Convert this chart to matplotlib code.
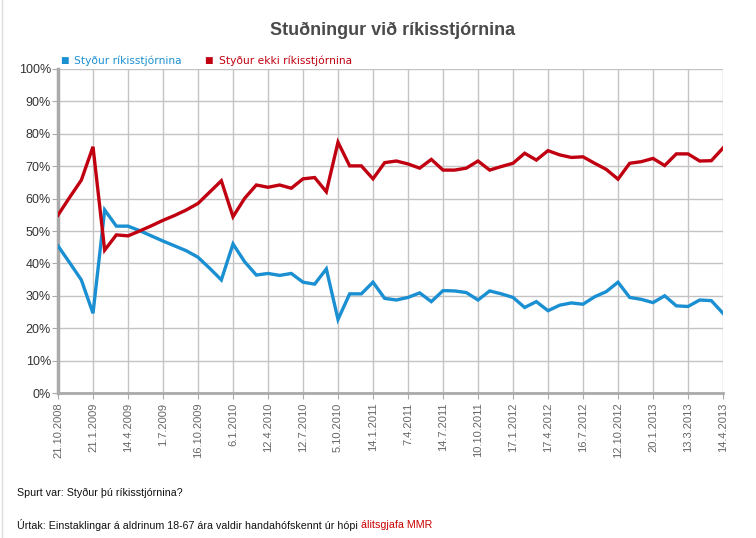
import matplotlib.pyplot as plt
from matplotlib.ticker import MultipleLocator, FuncFormatter

# dagsetningar sem birtast á x-ás (þriðja hver könnun)
tick_labels = ["21.10.2008", "21.1.2009", "14.4.2009", "1.7.2009", "16.10.2009",
               "6.1.2010", "12.4.2010", "12.7.2010", "5.10.2010", "14.1.2011",
               "7.4.2011", "14.7.2011", "10.10.2011", "17.1.2012", "17.4.2012",
               "16.7.2012", "12.10.2012", "20.1.2013", "13.3.2013", "14.4.2013"]

# Styður ríkisstjórnina (%)
stydur = [45.4, 40.2, 34.9, 24.6, 56.5, 51.5, 51.5, 50.1, 48.5, 46.9,
          45.4, 43.9, 41.9, 38.5, 34.9, 46.0, 40.5, 36.4, 36.9, 36.3,
          36.9, 34.2, 33.6, 38.3, 22.7, 30.6, 30.6, 34.2, 29.2, 28.7,
          29.5, 30.9, 28.2, 31.6, 31.5, 31.0, 28.7, 31.5, 30.6, 29.5,
          26.4, 28.2, 25.4, 27.1, 27.8, 27.4, 29.7, 31.3, 34.2, 29.5,
          28.9, 27.9, 30.0, 26.9, 26.7, 28.7, 28.5, 24.6]

# Styður ekki ríkisstjórnina (%)
stydur_ekki = [54.9, 60.4, 65.7, 76.0, 44.1, 48.8, 48.5, 50.0, 51.6, 53.3,
               54.8, 56.5, 58.5, 62.0, 65.5, 54.4, 60.1, 64.2, 63.5, 64.2,
               63.2, 66.1, 66.5, 62.1, 77.4, 70.1, 70.1, 66.1, 71.1, 71.6,
               70.7, 69.4, 72.1, 68.8, 68.8, 69.4, 71.6, 68.8, 69.9, 70.9,
               74.0, 71.9, 74.8, 73.5, 72.7, 72.9, 70.9, 69.0, 66.0, 70.9,
               71.4, 72.4, 70.2, 73.8, 73.8, 71.6, 71.7, 75.6]

BLUE = "#1a8fd2"
RED = "#c00010"
GRID = "#c4c4c4"

x = list(range(len(stydur)))
tick_pos = list(range(0, len(stydur), 3))

fig = plt.figure(figsize=(7.56, 5.38), dpi=100)
ax = fig.add_axes([58 / 756, 145 / 538, 665 / 756, 324 / 538])

ax.plot(x, stydur, color=BLUE, lw=2.4, solid_joinstyle="miter", zorder=3)
ax.plot(x, stydur_ekki, color=RED, lw=2.4, solid_joinstyle="miter", zorder=3)

ax.set_xlim(0, len(stydur) - 1)
ax.set_ylim(0, 100)
ax.yaxis.set_major_locator(MultipleLocator(10))
ax.yaxis.set_major_formatter(FuncFormatter(lambda v, p: f"{v:.0f}%"))
ax.set_xticks(tick_pos)
ax.set_xticklabels(tick_labels, rotation=90, fontsize=8, color="#666666",
                   family="Liberation Sans")
for lab in ax.get_yticklabels():
    lab.set_family("Liberation Sans")
ax.tick_params(axis="y", labelsize=9, labelcolor="#333333", length=4,
               color="#aaaaaa", pad=1)
ax.tick_params(axis="x", length=4, color="#aaaaaa", pad=3)

ax.grid(True, color=GRID, lw=1)
ax.set_axisbelow(True)
for side in ["top", "right"]:
    ax.spines[side].set_visible(False)
ax.spines["left"].set_color("#aaaaaa")
ax.spines["left"].set_linewidth(2.5)
ax.spines["bottom"].set_color("#aaaaaa")
ax.spines["bottom"].set_linewidth(2)

fig.text(393 / 756, 1 - 30 / 538, "Stuðningur við ríkisstjórnina", ha="center",
         va="center", fontsize=13, fontweight="bold", color="#4a4a4a",
         family="Liberation Sans")

# skýringar
fig.text(60 / 756, 1 - 61 / 538, "\u25a0", color=BLUE, fontsize=6.5, va="center")
fig.text(74 / 756, 1 - 61 / 538, "Styður ríkisstjórnina", color=BLUE,
         fontsize=7.7, va="center")
fig.text(204 / 756, 1 - 61 / 538, "\u25a0", color=RED, fontsize=6.5, va="center")
fig.text(219 / 756, 1 - 61 / 538, "Styður ekki ríkisstjórnina", color=RED,
         fontsize=7.7, va="center")

fig.text(17 / 756, 1 - 493 / 538, "Spurt var: Styður þú ríkisstjórnina?",
         fontsize=7.7, va="center", color="#111111", family="Liberation Sans")
t = fig.text(17 / 756, 1 - 525 / 538,
             "Úrtak: Einstaklingar á aldrinum 18-67 ára valdir handahófskennt úr hópi ",
             fontsize=7.7, va="center", color="#111111", family="Liberation Sans")
fig.canvas.draw()
bb = t.get_window_extent()
fig.text(bb.x1 / 756, 1 - 525 / 538, "álitsgjafa MMR", fontsize=7.7,
         va="center", color="#cc0000", family="Liberation Sans")

fig.add_artist(plt.Line2D([2 / 756, 2 / 756], [0, 1], color="#dddddd", lw=1))

fig.savefig("out.png", dpi=100)
